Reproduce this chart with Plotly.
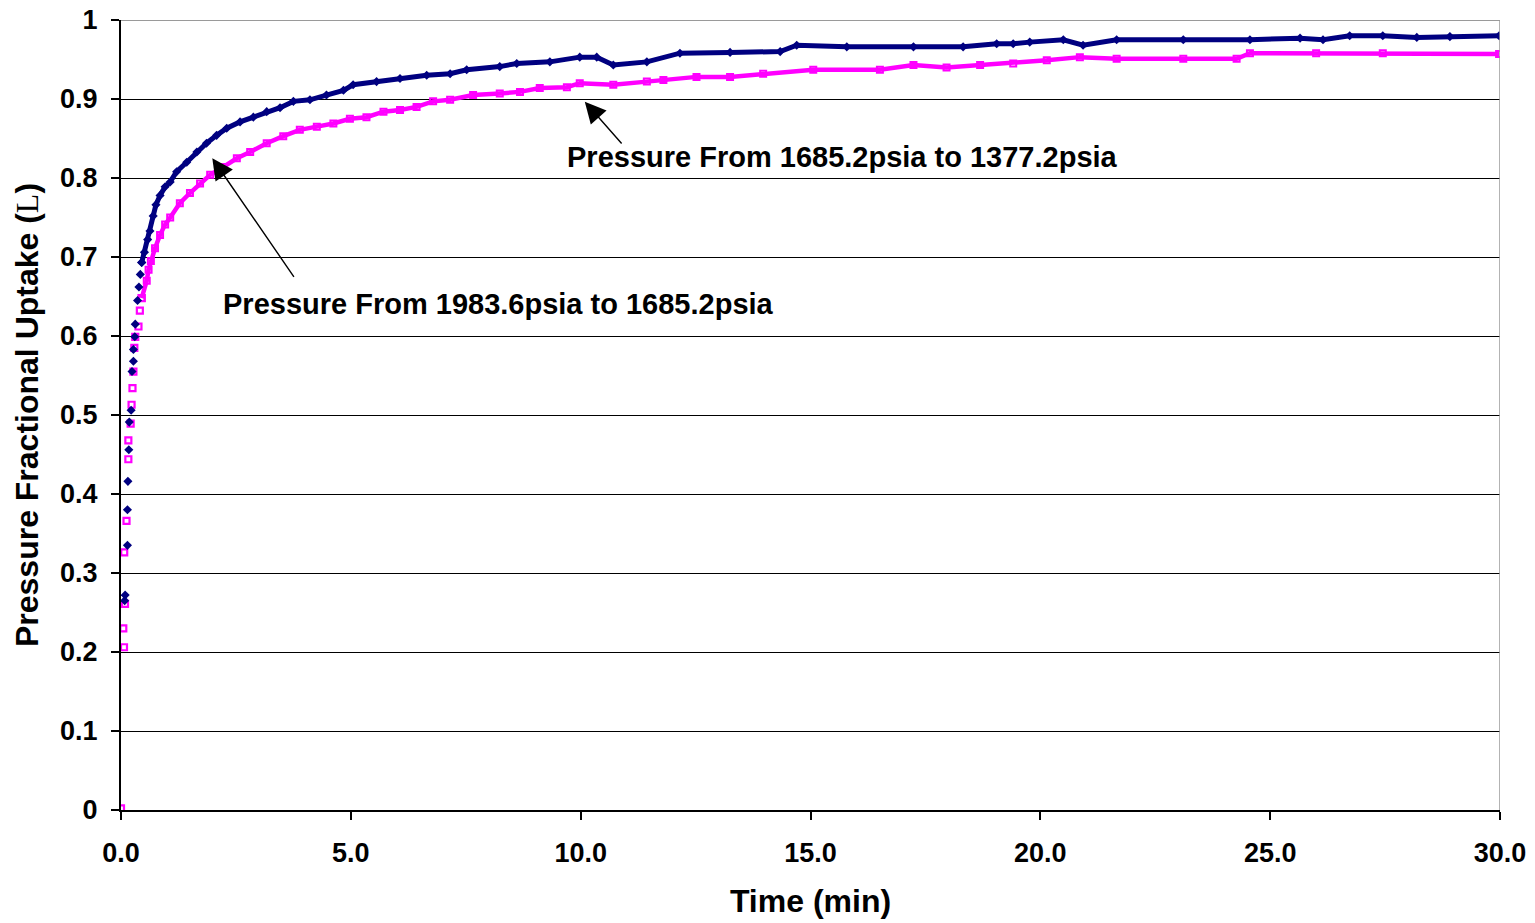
import plotly.graph_objects as go

# Pressure-step uptake runs: time in minutes, fractional uptake L (dimensionless)
# Run 1: 1983.6 psia -> 1685.2 psia (navy); Run 2: 1685.2 psia -> 1377.2 psia (magenta)

# early, widely spaced readings (navy run)
navy_early_t = [0.08, 0.09, 0.14, 0.14, 0.15, 0.17, 0.18, 0.22, 0.24, 0.27, 0.27,
                0.30, 0.31, 0.36, 0.39, 0.42, 0.45]
navy_early_v = [0.265, 0.272, 0.335, 0.380, 0.416, 0.456, 0.491, 0.506, 0.555, 0.568,
                0.583, 0.599, 0.615, 0.645, 0.662, 0.678, 0.693]

# dense readings (navy run)
navy_t = [0.45, 0.51, 0.58, 0.63, 0.70, 0.76, 0.85, 0.96, 1.07, 1.21, 1.43, 1.65, 1.86,
          2.08, 2.30, 2.59, 2.88, 3.17, 3.46, 3.75, 4.11, 4.47, 4.84, 5.05, 5.56, 6.07,
          6.65, 7.16, 7.52, 8.24, 8.61, 9.33, 9.98, 10.35, 10.71, 11.44, 12.16, 13.25,
          14.34, 14.70, 15.79, 17.24, 18.32, 19.05, 19.41, 19.77, 20.50, 20.93, 21.66,
          23.11, 24.56, 25.65, 26.15, 26.73, 27.45, 28.19, 28.91, 29.98]
navy_v = [0.693, 0.706, 0.722, 0.733, 0.752, 0.766, 0.778, 0.789, 0.795, 0.808, 0.820,
          0.833, 0.844, 0.854, 0.863, 0.871, 0.877, 0.884, 0.889, 0.897, 0.899, 0.905,
          0.911, 0.918, 0.922, 0.926, 0.930, 0.932, 0.937, 0.941, 0.945, 0.947, 0.953,
          0.953, 0.943, 0.947, 0.958, 0.959, 0.960, 0.968, 0.966, 0.966, 0.966, 0.970,
          0.970, 0.972, 0.975, 0.968, 0.975, 0.975, 0.975, 0.977, 0.975, 0.980, 0.980,
          0.978, 0.979, 0.980]

# early, widely spaced readings (magenta run)
pink_early_t = [0.00, 0.05, 0.065, 0.07, 0.087, 0.12, 0.16, 0.16, 0.21, 0.23, 0.25,
                0.27, 0.29, 0.31, 0.38, 0.41, 0.45]
pink_early_v = [0.002, 0.230, 0.206, 0.326, 0.261, 0.366, 0.444, 0.468, 0.489, 0.513,
                0.534, 0.555, 0.585, 0.599, 0.612, 0.632, 0.648]

# dense readings (magenta run)
pink_t = [0.45, 0.56, 0.60, 0.65, 0.74, 0.85, 0.96, 1.07, 1.28, 1.50, 1.72, 1.94, 2.23,
          2.52, 2.81, 3.17, 3.53, 3.89, 4.26, 4.62, 4.98, 5.34, 5.71, 6.07, 6.43, 6.79,
          7.16, 7.66, 8.24, 8.68, 9.11, 9.70, 9.98, 10.71, 11.44, 11.80, 12.52, 13.25,
          13.97, 15.06, 16.51, 17.24, 17.96, 18.69, 19.41, 20.14, 20.86, 21.66, 23.11,
          24.27, 24.56, 26.00, 27.45, 29.98]
pink_v = [0.648, 0.670, 0.684, 0.695, 0.711, 0.728, 0.741, 0.750, 0.768, 0.781, 0.793,
          0.804, 0.814, 0.825, 0.833, 0.844, 0.853, 0.861, 0.865, 0.869, 0.875, 0.877,
          0.884, 0.886, 0.890, 0.897, 0.899, 0.905, 0.907, 0.909, 0.914, 0.915, 0.920,
          0.918, 0.922, 0.924, 0.928, 0.928, 0.932, 0.937, 0.937, 0.943, 0.940, 0.943,
          0.945, 0.949, 0.953, 0.951, 0.951, 0.951, 0.958, 0.958, 0.958, 0.957]

x_ticks = [0, 5, 10, 15, 20, 25, 30]
y_ticks = [0, 0.1, 0.2, 0.3, 0.4, 0.5, 0.6, 0.7, 0.8, 0.9, 1.0]

label_run1 = "Pressure From 1983.6psia to 1685.2psia"
label_run2 = "Pressure From 1685.2psia to 1377.2psia"

NAVY = "#000080"
MAGENTA = "#FF00FF"
FONT = "Liberation Sans, Arial, sans-serif"

fig = go.Figure()

fig.add_trace(go.Scatter(
    x=pink_t, y=pink_v, mode="lines+markers",
    line=dict(color=MAGENTA, width=4.5),
    marker=dict(symbol="square-open", size=6, color=MAGENTA, line=dict(width=2, color=MAGENTA)),
    showlegend=False))
fig.add_trace(go.Scatter(
    x=pink_early_t, y=pink_early_v, mode="markers",
    marker=dict(symbol="square-open", size=6, color=MAGENTA, line=dict(width=2.2, color=MAGENTA)),
    showlegend=False))
fig.add_trace(go.Scatter(
    x=navy_t, y=navy_v, mode="lines+markers",
    line=dict(color=NAVY, width=5),
    marker=dict(symbol="diamond", size=7, color=NAVY),
    showlegend=False))
fig.add_trace(go.Scatter(
    x=navy_early_t, y=navy_early_v, mode="markers",
    marker=dict(symbol="diamond", size=7, color=NAVY),
    showlegend=False))

# arrows pointing at each run, plus their labels
arrow_common = dict(showarrow=True, arrowhead=2, arrowsize=3.0, arrowwidth=1.4,
                    arrowcolor="black", axref="x", ayref="y", text="", standoff=0)
fig.add_annotation(x=10.09, y=0.8966, ax=10.92, ay=0.8418, **arrow_common)
fig.add_annotation(x=1.986, y=0.825, ax=3.784, ay=0.6730, **arrow_common)

text_font = dict(family=FONT, size=29, color="black", weight="bold")
fig.add_annotation(x=9.66, y=0.8266, text=label_run2, showarrow=False,
                   xanchor="left", yanchor="middle", font=text_font)
fig.add_annotation(x=2.175, y=0.6405, text=label_run1, showarrow=False,
                   xanchor="left", yanchor="middle", font=text_font)

# grey frame on top and right of the plot area
fig.add_shape(type="line", xref="x", yref="y", x0=0, x1=30, y0=1, y1=1,
              line=dict(color="#9a9a9a", width=2), layer="above")
fig.add_shape(type="line", xref="x", yref="y", x0=30, x1=30, y0=0, y1=1,
              line=dict(color="#9a9a9a", width=1.5), layer="above")

tick_font = dict(family=FONT, size=27, color="black", weight="bold")
title_font = dict(family=FONT, size=32, color="black", weight="bold")

fig.update_xaxes(
    range=[0, 30], tickvals=x_ticks, tickformat=".1f",
    showgrid=False, zeroline=False,
    showline=True, linecolor="black", linewidth=2,
    ticks="outside", ticklen=8, tickwidth=1.5, tickcolor="black",
    tickfont=tick_font, ticklabelstandoff=10,
    title=dict(text="Time (min)", font=title_font, standoff=22))
fig.update_yaxes(
    range=[0, 1], tickvals=y_ticks, ticktext=[f"{v:g}" for v in y_ticks],
    showgrid=True, gridcolor="black", gridwidth=1.3, zeroline=False,
    showline=True, linecolor="black", linewidth=2,
    ticks="outside", ticklen=8, tickwidth=1.5, tickcolor="black",
    tickfont=tick_font, ticklabelstandoff=8,
    title=dict(text="Pressure Fractional Uptake (<span style='font-family:Liberation Serif;font-weight:normal'>L</span>)",
               font=title_font, standoff=12))

fig.update_layout(
    width=1535, height=923,
    margin=dict(l=121, r=35, t=20, b=113, autoexpand=False),
    plot_bgcolor="white", paper_bgcolor="white",
    font=dict(family=FONT),
)

fig.write_html("out.html")
